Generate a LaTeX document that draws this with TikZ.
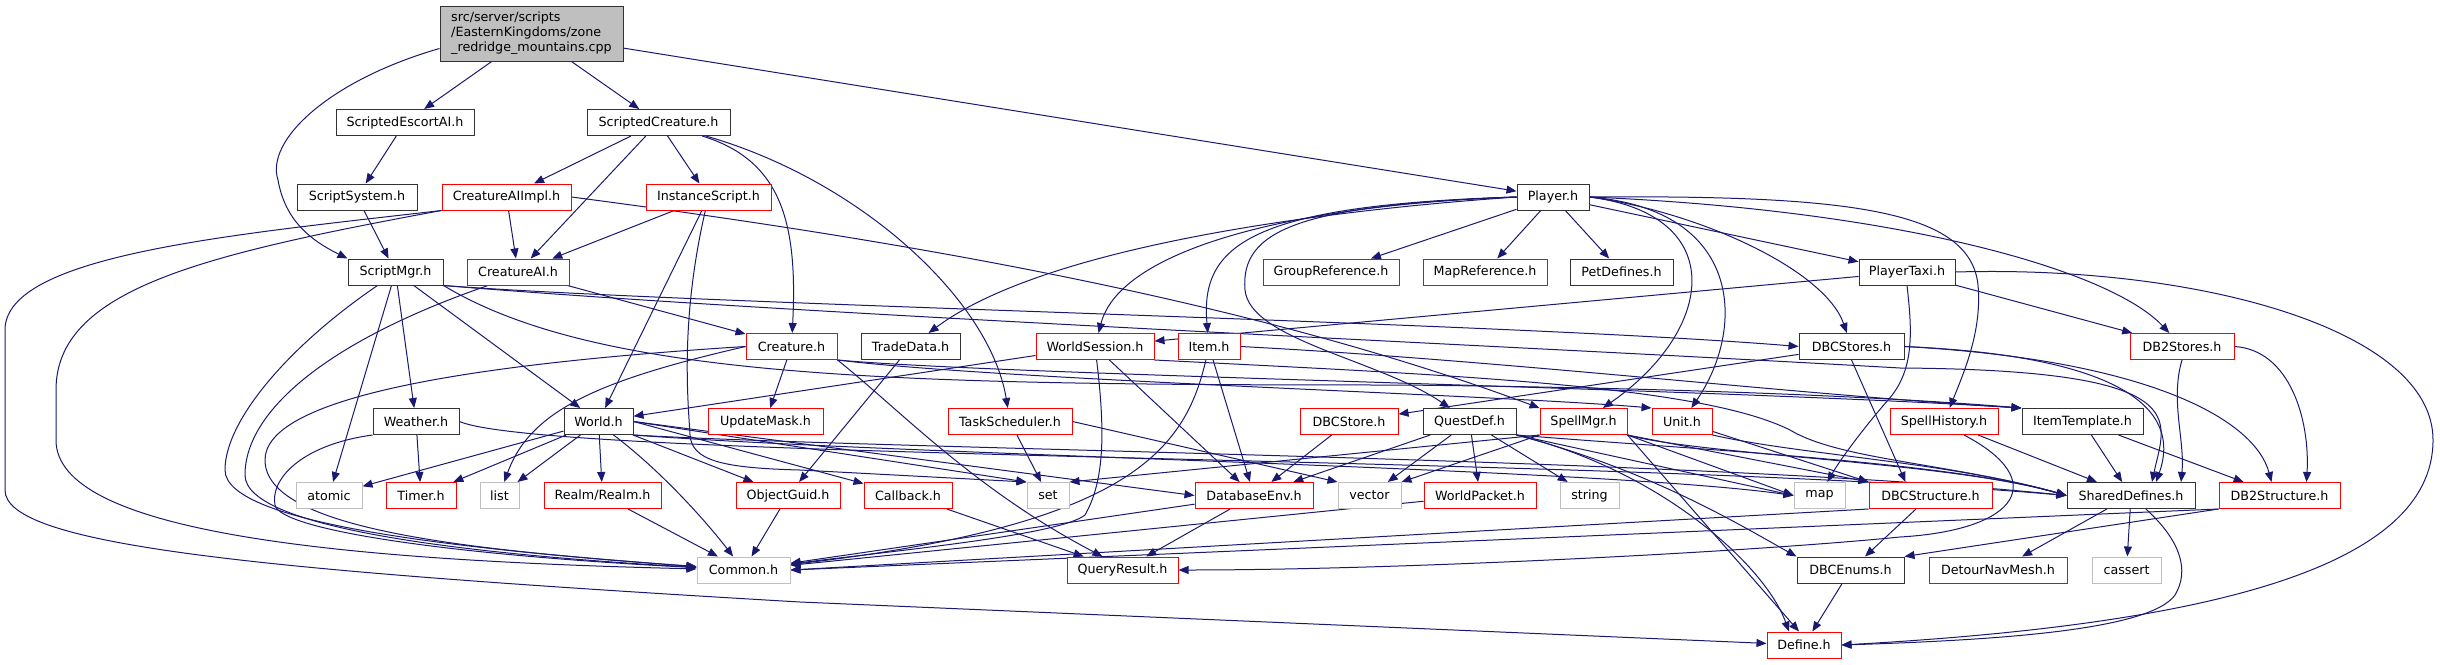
\documentclass[tikz,border=0pt]{standalone}
\usepackage{fontspec}
\setmainfont{DejaVu Sans}
\usetikzlibrary{arrows.meta,backgrounds}
\definecolor{edgecol}{RGB}{25,25,112}
\definecolor{graybd}{RGB}{191,191,191}
\definecolor{redbd}{RGB}{255,0,0}
\definecolor{rootfill}{RGB}{191,191,191}
\begin{document}
\begin{tikzpicture}[x=1pt,y=-1pt,
  nd/.style={draw, rectangle, minimum height=26pt, inner sep=0pt, line width=1pt, font=\fontsize{12.7pt}{15pt}\selectfont, fill=white, text=black},
  bb/.style={nd, draw=black!80},
  rb/.style={nd, draw=redbd},
  gb/.style={nd, draw=graybd},
  e/.style={draw=edgecol, line width=1pt, -{Triangle[length=10pt,width=8pt]}}
]
\useasboundingbox (0,0) rectangle (2440,664);
% ---------------- nodes ----------------
\node[bb, fill=rootfill, minimum width=183pt, minimum height=55pt, align=left] (root) at (531.5,33.5) {src/server/scripts\\/EasternKingdoms/zone\\\_redridge\_mountains.cpp};
\node[bb, minimum width=138pt] (seai) at (405,122.5) {ScriptedEscortAI.h};
\node[bb, minimum width=143pt] (scr) at (658.5,122.5) {ScriptedCreature.h};
\node[bb, minimum width=120pt] (ssys) at (357,197) {ScriptSystem.h};
\node[rb, minimum width=129pt] (caii) at (506.5,197) {CreatureAIImpl.h};
\node[rb, minimum width=125pt] (inst) at (708.5,197) {InstanceScript.h};
\node[bb, minimum width=72pt] (player) at (1553,197) {Player.h};
\node[bb, minimum width=95pt] (smgr) at (395.5,272) {ScriptMgr.h};
\node[rb, minimum width=102pt] (cai) at (518,272) {CreatureAI.h};
\node[rb, minimum width=136pt] (gref) at (1331,272) {GroupReference.h};
\node[rb, minimum width=124pt] (mref) at (1485,272) {MapReference.h};
\node[bb, minimum width=103pt] (petd) at (1621.5,272) {PetDefines.h};
\node[bb, minimum width=96pt] (ptaxi) at (1907,272) {PlayerTaxi.h};
\node[rb, minimum width=91pt] (crea) at (791.5,346.5) {Creature.h};
\node[bb, minimum width=99pt] (trade) at (910.5,346.5) {TradeData.h};
\node[rb, minimum width=118pt] (wses) at (1095,346.5) {WorldSession.h};
\node[rb, minimum width=62pt] (item) at (1209,346.5) {Item.h};
\node[bb, minimum width=105pt] (dbcs) at (1851.5,346.5) {DBCStores.h};
\node[rb, minimum width=104pt] (db2s) at (2182,346.5) {DB2Stores.h};
\node[bb, minimum width=86pt] (weather) at (416,421.5) {Weather.h};
\node[bb, minimum width=69pt] (world) at (598.5,421.5) {World.h};
\node[rb, minimum width=115pt] (umask) at (765.5,421.5) {UpdateMask.h};
\node[rb, minimum width=124pt] (tsched) at (1010,421.5) {TaskScheduler.h};
\node[rb, minimum width=98pt] (dbcstore) at (1349,421.5) {DBCStore.h};
\node[bb, minimum width=93pt] (quest) at (1469.5,421.5) {QuestDef.h};
\node[rb, minimum width=87pt] (spmgr) at (1583.5,421.5) {SpellMgr.h};
\node[rb, minimum width=60pt] (unit) at (1682,421.5) {Unit.h};
\node[rb, minimum width=108pt] (shist) at (1944,421.5) {SpellHistory.h};
\node[bb, minimum width=121pt] (itpl) at (2082.5,421.5) {ItemTemplate.h};
\node[gb, minimum width=66pt] (atomic) at (329,495.5) {atomic};
\node[rb, minimum width=70pt] (timer) at (421,495.5) {Timer.h};
\node[gb, minimum width=39pt] (list) at (499.5,495.5) {list};
\node[rb, minimum width=117pt] (realm) at (602.5,495.5) {Realm/Realm.h};
\node[rb, minimum width=104pt] (oguid) at (788,495.5) {ObjectGuid.h};
\node[rb, minimum width=88pt] (cb) at (908,495.5) {Callback.h};
\node[gb, minimum width=42pt] (set) at (1048,495.5) {set};
\node[rb, minimum width=118pt] (dbenv) at (1254,495.5) {DatabaseEnv.h};
\node[gb, minimum width=63pt] (vector) at (1369.5,495.5) {vector};
\node[rb, minimum width=112pt] (wpkt) at (1480,495.5) {WorldPacket.h};
\node[gb, minimum width=59pt] (string) at (1589.5,495.5) {string};
\node[gb, minimum width=51pt] (map) at (1819.5,495.5) {map};
\node[rb, minimum width=123pt] (dbcst) at (1930.5,495.5) {DBCStructure.h};
\node[bb, minimum width=128pt] (shdef) at (2131,495.5) {SharedDefines.h};
\node[rb, minimum width=121pt] (db2st) at (2279.5,495.5) {DB2Structure.h};
\node[gb, minimum width=93pt] (common) at (743.5,570) {Common.h};
\node[rb, minimum width=111pt] (qres) at (1122.5,570) {QueryResult.h};
\node[bb, minimum width=107pt] (dbce) at (1850.5,570) {DBCEnums.h};
\node[rb, minimum width=138pt] (detour) at (1998,570) {DetourNavMesh.h};
\node[gb, minimum width=69pt] (cassert) at (2126.5,570) {cassert};
\node[rb, minimum width=74pt] (define) at (1804,645) {Define.h};
% ---------------- edges ----------------
\begin{scope}[on background layer]
% root
\draw[e] (root) -- (seai);
\draw[e] (root) -- (scr);
\draw[e] ([yshift=-15pt]root.west) .. controls (330,80) and (265,140) .. (278,180) .. controls (285,220) and (310,240) .. (smgr.north west);
\draw[e] (root) -- (player);
\draw[e] (seai) -- (ssys);
\draw[e] (ssys) -- (smgr);
% ScriptedCreature
\draw[e] (scr) -- (caii);
\draw[e] (scr) -- (cai);
\draw[e] (scr) -- (inst);
\draw[e] (scr) .. controls (780,160) and (798,220) .. (crea);
\draw[e] (scr) .. controls (860,180) and (990,300) .. (tsched);
% CreatureAIImpl
\draw[e] (caii) -- (cai);
\draw[e] (caii.south west) .. controls (200,255) and (56,290) .. (56,390) -- (56,440) .. controls (56,530) and (320,560) .. (common);
\draw[e] (caii.south west) .. controls (230,235) and (5,255) .. (5,330) -- (5,490) .. controls (5,545) and (250,570) .. (800,602) -- (define);
\draw[e] (caii.east) .. controls (900,240) and (1250,300) .. (spmgr.north west);
% InstanceScript
\draw[e] (inst) -- (cai);
\draw[e] (inst) -- (world);
\draw[e] (inst) .. controls (680,320) and (688,400) .. (690,435) .. controls (692,460) and (720,468) .. (800,470) -- (set.north west);
% CreatureAI
\draw[e] (cai) -- (crea);
\draw[e] ([xshift=-30pt]cai.south) .. controls (330,340) and (245,410) .. (245,475) .. controls (245,530) and (480,555) .. (common);
% ScriptMgr
\draw[e] (smgr) -- (weather);
\draw[e] (smgr) -- (world);
\draw[e] (smgr) -- (atomic);
\draw[e] ([xshift=-18pt]smgr.south) .. controls (290,345) and (225,420) .. (225,470) .. controls (225,525) and (470,550) .. (common);
\draw[e] (smgr.south east) .. controls (700,305) and (1500,322) .. (dbcs.west);
\draw[e] (smgr.south east) .. controls (800,315) and (1500,345) .. (1900,368) .. controls (2200,370) and (2165,420) .. ([xshift=21pt]shdef.north);
\draw[e] (smgr.south east) .. controls (600,380) and (900,385) .. (1400,385) .. controls (1700,388) and (1900,398) .. (itpl.north west);
% Weather
\draw[e] (weather) -- (timer);
\draw[e] (weather.south west) .. controls (300,445) and (270,480) .. (275,505) .. controls (280,530) and (450,555) .. (common);
\draw[e] (weather.east) .. controls (550,460) and (1600,455) .. (shdef.west);
% World
\draw[e] (world) -- (atomic);
\draw[e] (world) -- (timer);
\draw[e] (world) -- (list);
\draw[e] (world) -- (realm);
\draw[e] ([xshift=15pt]world.south) .. controls (660,470) and (705,520) .. (common);
\draw[e] (world) -- (oguid);
\draw[e] (world.east) -- (cb);
\draw[e] (world.east) -- (set.north west);
\draw[e] (world.east) -- (dbenv.west);
\draw[e] (world.south east) .. controls (900,450) and (1700,458) .. (shdef.west);
\draw[e] (world.south east) .. controls (900,455) and (1600,468) .. (map.west);
% Creature
\draw[e] (crea) -- (umask);
\draw[e] (crea.west) .. controls (600,380) and (530,410) .. (list);
\draw[e] (crea.west) .. controls (450,365) and (265,400) .. (265,460) .. controls (265,530) and (470,550) .. (common);
\draw[e] (crea.south east) .. controls (1000,380) and (1500,395) .. (unit.north west);
\draw[e] (crea.south east) .. controls (1000,375) and (1700,388) .. (itpl.north west);
\draw[e] (crea.south east) .. controls (900,410) and (975,490) .. ([xshift=-20pt]qres.north);
% TradeData
\draw[e] (trade) -- (oguid);
% WorldSession
\draw[e] (wses) -- (world);
\draw[e] (wses) .. controls (1105,430) and (1105,480) .. (1085,515) .. controls (1060,535) and (900,550) .. (common);
\draw[e] (wses) -- (dbenv);
\draw[e] (wses.south east) .. controls (1450,375) and (1700,385) .. (1790,430) .. controls (1840,460) and (1950,463) .. (shdef.west);
% Item
\draw[e] (item) -- (dbenv);
\draw[e] (item) .. controls (1185,450) and (1130,525) .. (common);
\draw[e] (item.east) .. controls (1500,360) and (1800,395) .. (itpl.north west);
% Player
\draw[e] (player) -- (gref);
\draw[e] (player) -- (mref);
\draw[e] (player) -- (petd);
\draw[e] (player) -- (ptaxi);
\draw[e] (player.west) .. controls (1300,212) and (1040,250) .. (trade);
\draw[e] (player.west) .. controls (1290,205) and (1120,250) .. (wses);
\draw[e] (player.west) .. controls (1250,205) and (1200,245) .. (item);
\draw[e] (player.west) .. controls (1300,205) and (1240,230) .. (1245,290) .. controls (1250,340) and (1380,360) .. (quest);
\draw[e] (player.east) .. controls (1700,212) and (1825,270) .. (dbcs);
\draw[e] (player.east) .. controls (1900,210) and (2110,270) .. (db2s);
\draw[e] (player.east) .. controls (1730,215) and (1715,330) .. (spmgr);
\draw[e] (player.east) .. controls (1745,210) and (1745,330) .. (unit);
\draw[e] (player.east) .. controls (1850,195) and (1970,210) .. (1978,285) .. controls (1982,330) and (1965,370) .. (shist);
% PlayerTaxi
\draw[e] (ptaxi) -- (wses);
\draw[e] (ptaxi) -- (db2s);
\draw[e] (ptaxi.south) .. controls (1912,330) and (1915,370) .. (1888,400) .. controls (1862,430) and (1840,460) .. (map);
\draw[e] (ptaxi.east) .. controls (2200,265) and (2433,330) .. (2433,440) .. controls (2433,570) and (2200,625) .. (define.east);
% DBCStores / DB2Stores
\draw[e] (dbcs) -- (dbcstore);
\draw[e] (dbcs.south) -- ([xshift=-25pt]dbcst.north);
\draw[e] (dbcs.east) .. controls (2100,355) and (2185,400) .. ([xshift=25pt]shdef.north);
\draw[e] (dbcs.east) .. controls (2150,360) and (2255,420) .. ([xshift=-8pt]db2st.north);
\draw[e] (db2s.south) .. controls (2170,400) and (2185,440) .. ([xshift=50pt]shdef.north);
\draw[e] (db2s.east) .. controls (2290,350) and (2310,420) .. ([xshift=27pt]db2st.north);
% ItemTemplate, SpellHistory
\draw[e] (itpl) -- (shdef);
\draw[e] (itpl) -- (db2st);
\draw[e] (shist) -- (shdef);
\draw[e] ([xshift=20pt]shist.south) .. controls (2050,480) and (2020,530) .. (1900,537) .. controls (1750,552) and (1400,570) .. (qres.east);
% QuestDef
\draw[e] (quest) -- (dbenv);
\draw[e] (quest) -- (vector);
\draw[e] (quest) -- (wpkt);
\draw[e] (quest) -- (string);
\draw[e] (quest.south east) -- (map.west);
\draw[e] (quest.south east) .. controls (1700,450) and (1950,462) .. (shdef.west);
\draw[e] (quest.south east) .. controls (1650,470) and (1740,525) .. (dbce.north west);
\draw[e] (quest.south east) .. controls (1660,470) and (1765,565) .. ([xshift=-15pt]define.north);
% SpellMgr
\draw[e] (spmgr.south west) -- (set.north east);
\draw[e] (spmgr.south west) -- (vector.north east);
\draw[e] (spmgr.south east) -- (map.west);
\draw[e] (spmgr.south east) -- (dbcst.north west);
\draw[e] (spmgr.south east) .. controls (1700,455) and (1950,462) .. (shdef.west);
\draw[e] (spmgr.south east) -- ([xshift=-5pt]define.north);
% Unit
\draw[e] (unit) -- (dbcst.north west);
\draw[e] (unit.south east) .. controls (1800,455) and (1950,462) .. (shdef.west);
% DBCStore, TaskScheduler
\draw[e] (dbcstore) -- (dbenv);
\draw[e] (tsched) -- (set);
\draw[e] (tsched.east) -- (vector.north west);
% row 5
\draw[e] (cb) -- (qres);
\draw[e] (oguid) -- (common);
\draw[e] (realm) -- (common);
\draw[e] (dbenv) -- (common);
\draw[e] (dbenv) -- (qres);
\draw[e] (wpkt) -- (common);
\draw[e] (dbcst) -- (dbce);
\draw[e] (dbcst.south west) -- (common.east);
\draw[e] (db2st.south west) -- (dbce.north east);
\draw[e] (db2st.south west) -- (common.east);
% SharedDefines
\draw[e] (shdef) -- (detour);
\draw[e] (shdef) -- (cassert);
\draw[e] (shdef) .. controls (2180,540) and (2190,570) .. (2175,595) .. controls (2150,630) and (2000,640) .. (define.east);
\draw[e] (dbce) -- (define);
\end{scope}
\end{tikzpicture}
\end{document}
